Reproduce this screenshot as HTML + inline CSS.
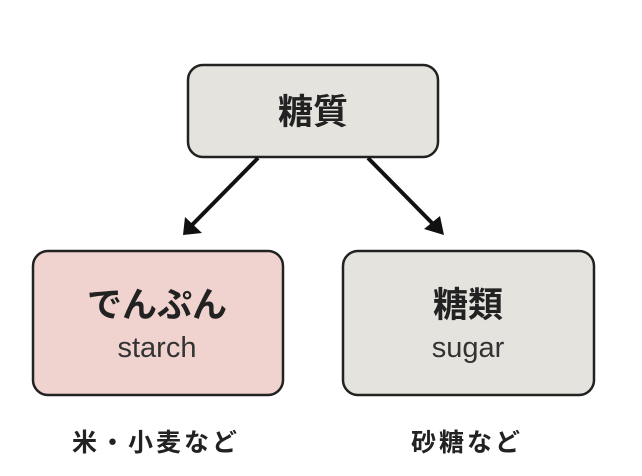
<!DOCTYPE html>
<html><head><meta charset="utf-8"><style>
html,body{margin:0;padding:0;background:#fff;}
svg{display:block;}
.jp{font-family:"Liberation Sans","Noto Sans CJK JP",sans-serif;}
</style></head><body>
<svg width="642" height="476" viewBox="0 0 642 476" xmlns="http://www.w3.org/2000/svg">
<rect width="642" height="476" fill="#fff"/>
<rect x="188" y="65" width="250" height="92" rx="15" fill="#e5e3dd" stroke="#222" stroke-width="2.5"/>
<text x="313" y="124" text-anchor="middle" class="jp" font-size="35" font-weight="bold" fill="#222">糖質</text>
<line x1="258" y1="158" x2="192" y2="225" stroke="#111" stroke-width="4"/>
<polygon points="183,235 185,217 202,233" fill="#111"/>
<line x1="368" y1="158" x2="434" y2="225" stroke="#111" stroke-width="4"/>
<polygon points="444,235 440,216 424,229" fill="#111"/>
<rect x="33" y="251" width="250" height="144" rx="15" fill="#f0d3cf" stroke="#222" stroke-width="2.5"/>
<text x="157" y="317" text-anchor="middle" class="jp" font-size="35" font-weight="bold" fill="#222">でんぷん</text>
<text x="157" y="357" text-anchor="middle" font-family="Liberation Sans, sans-serif" font-size="29" fill="#333">starch</text>
<rect x="343" y="251" width="251" height="144" rx="15" fill="#e5e3dd" stroke="#222" stroke-width="2.5"/>
<text x="468" y="317" text-anchor="middle" class="jp" font-size="35" font-weight="bold" fill="#222">糖類</text>
<text x="468" y="357" text-anchor="middle" font-family="Liberation Sans, sans-serif" font-size="29" fill="#333">sugar</text>
<text x="156" y="451" text-anchor="middle" class="jp" font-size="25" font-weight="bold" fill="#222" letter-spacing="3">米・小麦など</text>
<text x="467" y="451" text-anchor="middle" class="jp" font-size="25" font-weight="bold" fill="#222" letter-spacing="3">砂糖など</text>
</svg>
</body></html>
